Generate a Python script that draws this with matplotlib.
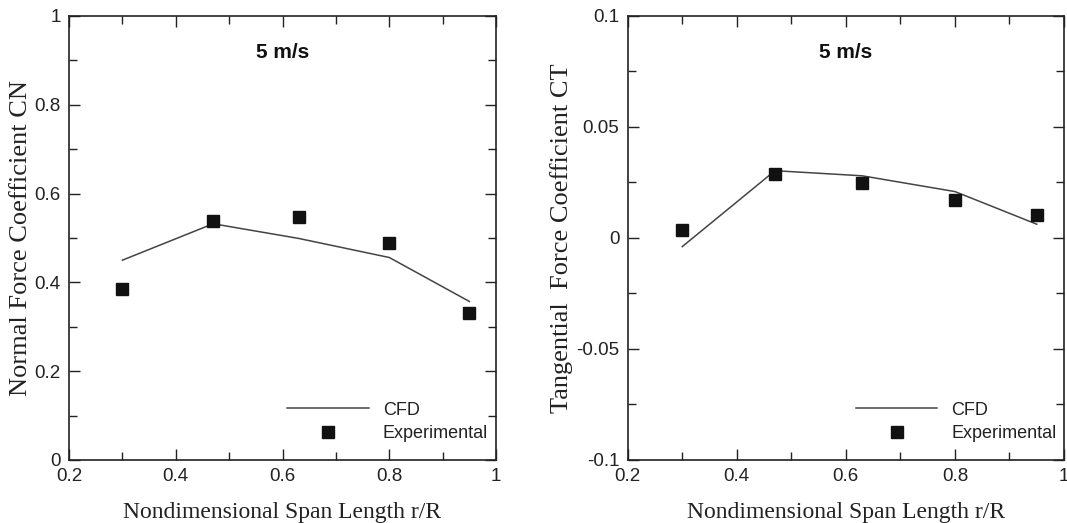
import matplotlib
matplotlib.use("Agg")
import matplotlib.pyplot as plt
from matplotlib.ticker import MultipleLocator

# Data
span = [0.3, 0.47, 0.63, 0.8, 0.95]
cn_cfd = [0.45, 0.532, 0.499, 0.456, 0.357]
cn_exp = [0.384, 0.538, 0.548, 0.488, 0.330]
ct_cfd = [-0.0039, 0.0303, 0.028, 0.0209, 0.0062]
ct_exp = [0.0036, 0.029, 0.0249, 0.0171, 0.0104]

sans = ["Liberation Sans", "DejaVu Sans"]
serif = ["Liberation Serif", "DejaVu Serif"]
ink = "#222222"

fig = plt.figure(figsize=(10.67, 5.23), dpi=100)
ax1 = fig.add_axes([0.0647, 0.1205, 0.4002, 0.849])
ax2 = fig.add_axes([0.5883, 0.1205, 0.4089, 0.849])


def fmt(v, pos):
    return f"{v:g}"


def style(ax, ylim, major, minor, ylabel, ylab_x):
    ax.set_xlim(0.2, 1.0)
    ax.set_ylim(*ylim)
    ax.xaxis.set_major_locator(MultipleLocator(0.2))
    ax.xaxis.set_minor_locator(MultipleLocator(0.1))
    ax.yaxis.set_major_locator(MultipleLocator(major))
    ax.yaxis.set_minor_locator(MultipleLocator(minor))
    ax.xaxis.set_major_formatter(plt.FuncFormatter(fmt))
    ax.yaxis.set_major_formatter(plt.FuncFormatter(fmt))
    ax.tick_params(which="both", direction="in", top=True, right=True,
                   color=ink, width=1, labelsize=13.5, labelcolor=ink, pad=6)
    ax.tick_params(which="major", length=8)
    ax.tick_params(which="minor", length=6)
    for lab in ax.get_xticklabels() + ax.get_yticklabels():
        lab.set_family(sans)
    for s in ax.spines.values():
        s.set_color(ink)
        s.set_linewidth(1.2)
    ax.set_xlabel("Nondimensional Span Length r/R", family=serif, fontsize=17,
                  color=ink, labelpad=12)
    ax.set_ylabel(ylabel, family=serif, fontsize=19, color=ink)
    ax.yaxis.set_label_coords(ylab_x, 0.5)
    ax.text(0.5, 0.917, "5 m/s", transform=ax.transAxes, ha="center", va="center",
            family=sans, fontsize=15, fontweight="bold", color="#111111")


for ax, cfd, exp in [(ax1, cn_cfd, cn_exp), (ax2, ct_cfd, ct_exp)]:
    ax.plot(span, cfd, "-", color="#444444", lw=1.1, label="CFD")
    ax.plot(span, exp, "s", color="#111111", ms=8.5, ls="none", label="Experimental")

style(ax1, (0, 1), 0.2, 0.1, "Normal Force Coefficient CN", -0.087)
style(ax2, (-0.1, 0.1), 0.05, 0.025, "Tangential  Force Coefficient CT", -0.125)

for ax, dx in [(ax1, 0.024), (ax2, 0.025)]:
    ax.legend(loc="lower right", bbox_to_anchor=(1.0 + dx, 0.0), frameon=False,
              prop={"family": sans, "size": 13}, handlelength=4.5,
              handletextpad=0.8, labelspacing=0.35, borderaxespad=0.6,
              labelcolor=ink)

fig.savefig("out.png", dpi=100)
